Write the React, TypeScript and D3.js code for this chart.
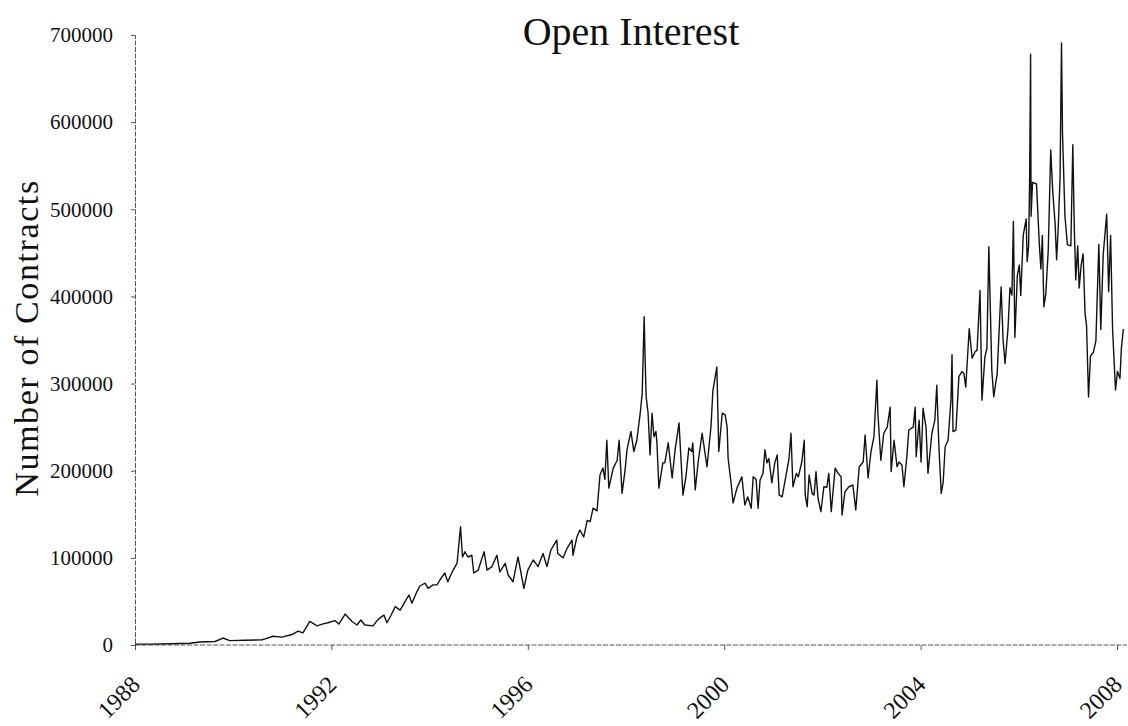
import React, { useRef, useEffect } from "react";
import * as d3 from "d3";

// decimal years
const years = [
  1988.0, 1988.31, 1988.71, 1989.12, 1989.32, 1989.63, 1989.79, 1989.93, 1990.24, 1990.59,
  1990.65, 1990.81, 1990.99, 1991.2, 1991.32, 1991.42, 1991.56, 1991.71, 1991.81, 1991.93,
  1992.07, 1992.15, 1992.28, 1992.42, 1992.52, 1992.6, 1992.68, 1992.85, 1992.93, 1993.01,
  1993.07, 1993.13, 1993.21, 1993.3, 1993.4, 1993.5, 1993.58, 1993.64, 1993.74, 1993.8,
  1993.91, 1993.97, 1994.07, 1994.15, 1994.21, 1994.31, 1994.37, 1994.48, 1994.56, 1994.63,
  1994.67, 1994.72, 1994.78, 1994.86, 1994.9, 1994.99, 1995.11, 1995.17, 1995.27, 1995.37,
  1995.43, 1995.54, 1995.6, 1995.7, 1995.8, 1995.92, 1996.0, 1996.11, 1996.21, 1996.31,
  1996.39, 1996.47, 1996.53, 1996.59, 1996.61, 1996.72, 1996.8, 1996.9, 1996.92, 1997.0,
  1997.06, 1997.14, 1997.21, 1997.27, 1997.33, 1997.41, 1997.47, 1997.53, 1997.57, 1997.61,
  1997.65, 1997.74, 1997.82, 1997.86, 1997.92, 1997.98, 1998.02, 1998.1, 1998.16, 1998.22,
  1998.29, 1998.33, 1998.37, 1998.39, 1998.41, 1998.45, 1998.49, 1998.53, 1998.57, 1998.61,
  1998.63, 1998.67, 1998.75, 1998.79, 1998.86, 1998.94, 1999.0, 1999.08, 1999.16, 1999.22,
  1999.28, 1999.34, 1999.36, 1999.41, 1999.47, 1999.55, 1999.65, 1999.73, 1999.77, 1999.85,
  1999.89, 1999.96, 2000.02, 2000.06, 2000.08, 2000.14, 2000.18, 2000.26, 2000.36, 2000.42,
  2000.48, 2000.55, 2000.59, 2000.65, 2000.69, 2000.73, 2000.79, 2000.83, 2000.87, 2000.91,
  2000.97, 2001.03, 2001.08, 2001.12, 2001.18, 2001.26, 2001.32, 2001.36, 2001.4, 2001.47,
  2001.51, 2001.58, 2001.63, 2001.65, 2001.69, 2001.73, 2001.79, 2001.83, 2001.87, 2001.91,
  2001.97, 2002.03, 2002.09, 2002.13, 2002.18, 2002.26, 2002.32, 2002.38, 2002.4, 2002.46,
  2002.54, 2002.62, 2002.68, 2002.75, 2002.83, 2002.87, 2002.93, 2002.99, 2003.05, 2003.11,
  2003.13, 2003.19, 2003.25, 2003.32, 2003.38, 2003.4, 2003.46, 2003.52, 2003.56, 2003.62,
  2003.66, 2003.72, 2003.76, 2003.85, 2003.89, 2003.91, 2003.97, 2004.01, 2004.05, 2004.11,
  2004.15, 2004.23, 2004.29, 2004.33, 2004.37, 2004.42, 2004.46, 2004.5, 2004.56, 2004.62,
  2004.64, 2004.66, 2004.72, 2004.78, 2004.84, 2004.88, 2004.92, 2004.99, 2005.05, 2005.11,
  2005.15, 2005.21, 2005.25, 2005.31, 2005.35, 2005.39, 2005.45, 2005.49, 2005.56, 2005.64,
  2005.68, 2005.72, 2005.78, 2005.82, 2005.86, 2005.89, 2005.92, 2005.97, 2006.01, 2006.04,
  2006.09, 2006.15, 2006.17, 2006.2, 2006.22, 2006.24, 2006.25, 2006.28, 2006.36, 2006.42,
  2006.45, 2006.48, 2006.51, 2006.55, 2006.6, 2006.65, 2006.69, 2006.74, 2006.77, 2006.8,
  2006.84, 2006.87, 2006.89, 2006.94, 2006.99, 2007.06, 2007.1, 2007.13, 2007.16, 2007.2,
  2007.23, 2007.27, 2007.31, 2007.35, 2007.38, 2007.42, 2007.46, 2007.52, 2007.57, 2007.63,
  2007.67, 2007.72, 2007.79, 2007.83, 2007.87, 2007.91, 2007.97, 2008.01, 2008.06, 2008.09,
  2008.13,
];

// open interest, number of contracts
const contracts = [
  1000, 1000, 1500, 2000, 3500, 4000, 8000, 5000, 5500, 6000,
  7000, 10000, 9000, 12000, 16000, 14000, 27000, 22000, 24000, 25500,
  28000, 24000, 35500, 27000, 23000, 28700, 23000, 22000, 28000, 32000,
  34400, 25500, 33600, 44000, 40000, 49700, 57400, 48000, 61000, 67700,
  71000, 65000, 69000, 69000, 74600, 82600, 72600, 86000, 94000, 135700,
  101000, 107000, 101000, 103000, 82600, 86000, 107000, 86000, 90000, 103000,
  84000, 93700, 80300, 72600, 101000, 65000, 86000, 97500, 90000, 105000,
  90000, 109000, 114700, 120500, 105000, 100000, 111000, 120500, 103000, 124000,
  132000, 124000, 143000, 141500, 157000, 154000, 195000, 203000, 190000, 235000,
  180000, 203000, 212000, 235000, 174000, 200000, 224000, 245000, 222000, 235000,
  266000, 289000, 376700, 327000, 285000, 266000, 218000, 266000, 239000, 245000,
  232000, 180000, 209000, 209000, 232000, 191600, 224000, 254700, 172000, 193000,
  226000, 222000, 232000, 178000, 210000, 243000, 204500, 250000, 292000, 319000,
  222000, 266000, 264000, 250000, 214000, 186000, 163000, 180000, 193000, 160600,
  170000, 157000, 193000, 190000, 157000, 189000, 197000, 224000, 209000, 214000,
  186000, 209000, 218000, 172000, 170000, 195000, 214000, 243000, 181600, 197000,
  193000, 210000, 235000, 172000, 158700, 195000, 174000, 172000, 199000, 168700,
  153000, 181600, 181000, 197000, 153000, 203000, 197000, 193000, 149000, 176000,
  181600, 183600, 155000, 204600, 210000, 241000, 191600, 222000, 239000, 304000,
  266000, 212000, 243000, 250000, 273000, 199000, 235000, 204600, 210000, 206500,
  181600, 216000, 246700, 250000, 273000, 216000, 258000, 210000, 271600, 250000,
  197000, 243000, 258000, 298000, 231000, 174000, 187000, 227500, 235000, 283000,
  333000, 245000, 246700, 308000, 313600, 312000, 296000, 363000, 329000, 336600,
  338000, 407000, 281000, 331000, 340000, 457000, 315500, 285000, 311800, 411000,
  350000, 323000, 363000, 410000, 401600, 486000, 353000, 424000, 436000, 401000,
  470000, 489000, 440000, 458000, 531000, 678000, 492000, 531000, 529000, 458000,
  431500, 470000, 388000, 403000, 453000, 568000, 522000, 483000, 442000, 475000,
  535000, 691000, 587500, 492000, 459500, 458000, 574000, 479000, 419000, 458000,
  409700, 436000, 448700, 380000, 366400, 284600, 331600, 336000, 349000, 459600,
  362000, 448700, 494500, 405400, 470000, 362000, 292600, 314000, 305800, 341000,
  362600,
];

const yTicks = [0, 100000, 200000, 300000, 400000, 500000, 600000, 700000];
const xTicks = [1988, 1992, 1996, 2000, 2004, 2008];

const W = 1128;
const H = 726;
const FONT = "'Liberation Serif', 'Times New Roman', serif";

const App = () => {
  const ref = useRef<SVGSVGElement>(null);

  useEffect(() => {
    const svg = d3.select(ref.current);
    svg.selectAll("*").remove();

    const left = 135;
    const right = 1117;
    const top = 35;
    const bottom = 645;

    const x = d3.scaleLinear().domain([1988, 2008]).range([left, right]);
    const y = d3.scaleLinear().domain([0, 700000]).range([bottom, top]);

    const data = years.map((yr, i) => ({ yr, v: contracts[i] }));

    // title
    svg
      .append("text")
      .attr("x", 631)
      .attr("y", 45)
      .attr("text-anchor", "middle")
      .attr("font-family", FONT)
      .attr("font-size", 40)
      .attr("fill", "#111")
      .text("Open Interest");

    // y axis label
    svg
      .append("text")
      .attr("transform", `translate(38,338) rotate(-90)`)
      .attr("text-anchor", "middle")
      .attr("font-family", FONT)
      .attr("font-size", 34)
      .attr("letter-spacing", 1.6)
      .attr("fill", "#111")
      .text("Number of Contracts");

    const yAxis = svg
      .append("g")
      .attr("transform", `translate(${left},0)`)
      .call(
        d3
          .axisLeft(y)
          .tickValues(yTicks)
          .tickFormat(d3.format("d"))
          .tickSize(4)
          .tickPadding(18)
      );
    yAxis.selectAll("text").attr("font-family", FONT).attr("font-size", 21).attr("fill", "#111");

    const xAxis = svg
      .append("g")
      .attr("transform", `translate(0,${bottom})`)
      .call(
        d3
          .axisBottom(x)
          .tickValues(xTicks)
          .tickFormat(d3.format("d"))
          .tickSize(5)
      );
    xAxis
      .selectAll("text")
      .attr("font-family", FONT)
      .attr("font-size", 24)
      .attr("fill", "#111")
      .attr("text-anchor", "end")
      .attr("x", 0)
      .attr("y", 0)
      .attr("dy", 0)
      .attr("transform", "translate(6,41) rotate(-45)");

    // scanned look for the axis lines
    svg
      .selectAll(".domain")
      .attr("stroke", "#555")
      .attr("stroke-dasharray", "5,1.5");
    svg.selectAll(".tick line").attr("stroke", "#555");
    xAxis.select(".domain").attr("d", `M${left},0H${x(2008.2)}`);

    const line = d3
      .line<{ yr: number; v: number }>()
      .x((d) => x(d.yr))
      .y((d) => y(d.v));

    svg
      .append("path")
      .datum(data)
      .attr("fill", "none")
      .attr("stroke", "#111")
      .attr("stroke-width", 1.4)
      .attr("stroke-linejoin", "round")
      .attr("d", line);
  }, []);

  return (
    <svg
      ref={ref}
      width={W}
      height={H}
      style={{ position: "absolute", left: 0, top: 0, background: "#fff" }}
    ></svg>
  );
};

export default App;
